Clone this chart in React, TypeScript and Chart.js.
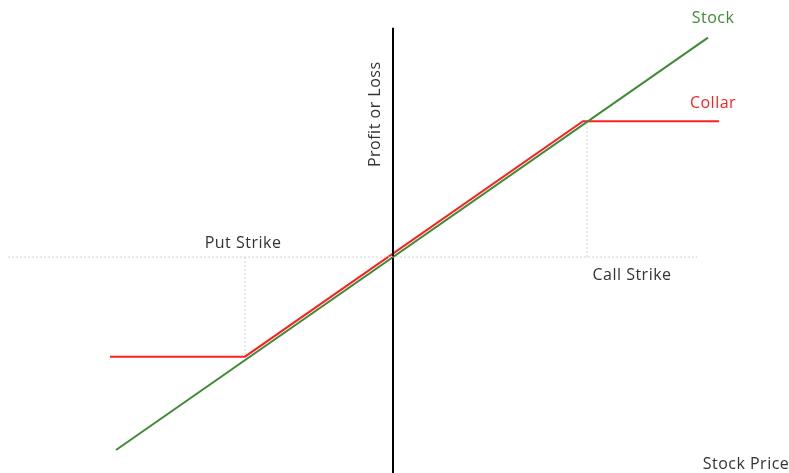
import React, { useEffect, useRef } from "react";
import { Chart, registerables } from "chart.js";

Chart.register(...registerables);

// Stock price (x) and profit/loss (y) in the same arbitrary units
const stockX = [-27.7, 31.5];
const stockY = [-27.7, 31.5];
const collarX = [-28.3, -14.8, 19.0, 32.6];
const collarY = [-14.3, -14.3, 19.5, 19.5];
const putStrike = -14.8;
const callStrike = 19.4;
const putFloor = -14.3;
const callCap = 19.5;
const priceAxisX = [-38.5, 30.4];
const pnlAxisY = [-31.5, 32.9];

const GREEN = "#3f8a35";
const RED = "#ff1f1f";
const TEXT = "#333333";
const FONT = "16px 'Open Sans', sans-serif";

const labelsPlugin = {
  id: "labels",
  afterDatasetsDraw(chart: any) {
    const { ctx, scales } = chart;
    const xs = scales.x;
    const ys = scales.y;
    const put = (t: string, x: number, y: number, color: string, rot = 0) => {
      ctx.save();
      ctx.font = FONT;
      try { (ctx as any).letterSpacing = "0.5px"; } catch (e) {}
      ctx.fillStyle = color;
      ctx.textAlign = "center";
      ctx.textBaseline = "middle";
      ctx.translate(xs.getPixelForValue(x), ys.getPixelForValue(y));
      if (rot) ctx.rotate(rot);
      ctx.fillText(t, 0, 0);
      ctx.restore();
    };
    put("Stock", 32.0, 34.2, GREEN);
    put("Collar", 32.0, 22.1, RED);
    put("Put Strike", -15.0, 2.0, TEXT);
    put("Call Strike", 23.9, -2.6, TEXT);
    put("Stock Price", 35.3, -29.8, TEXT);
    put("Profit or Loss", -1.8, 20.5, TEXT, -Math.PI / 2);
  },
};

export default function App() {
  const ref = useRef<HTMLCanvasElement>(null);
  useEffect(() => {
    if (!ref.current) return;
    const pts = (xs: number[], ys: number[]) => xs.map((x, i) => ({ x, y: ys[i] }));
    const dashed = { borderColor: "#d0d0d0", borderWidth: 1, borderDash: [2, 2] };
    const chart = new Chart(ref.current, {
      type: "line",
      data: {
        datasets: [
          { data: pts(priceAxisX, [0, 0]), ...dashed },
          { data: pts([putStrike, putStrike], [0, putFloor]), ...dashed },
          { data: pts([callStrike, callStrike], [0, callCap]), ...dashed },
          { data: pts([0, 0], pnlAxisY), borderColor: "#000000", borderWidth: 2 },
          { data: pts(stockX, stockY), borderColor: GREEN, borderWidth: 2 },
          { data: pts(collarX, collarY), borderColor: RED, borderWidth: 2 },
        ] as any,
      },
      options: {
        animation: false,
        responsive: false,
        parsing: false as any,
        elements: { point: { radius: 0 }, line: { tension: 0 } },
        layout: { padding: 0 },
        plugins: { legend: { display: false }, tooltip: { enabled: false } },
        scales: {
          x: { type: "linear", min: -39.3, max: 39.6, display: false },
          y: { type: "linear", min: -31.0, max: 36.9, display: false },
        },
      },
      plugins: [labelsPlugin],
    });
    return () => chart.destroy();
  }, []);
  return (
    <div style={{ position: "absolute", left: 0, top: 0, width: 789, height: 473, background: "#fff" }}>
      <canvas ref={ref} width={789} height={473} style={{ display: "block" }} />
    </div>
  );
}
